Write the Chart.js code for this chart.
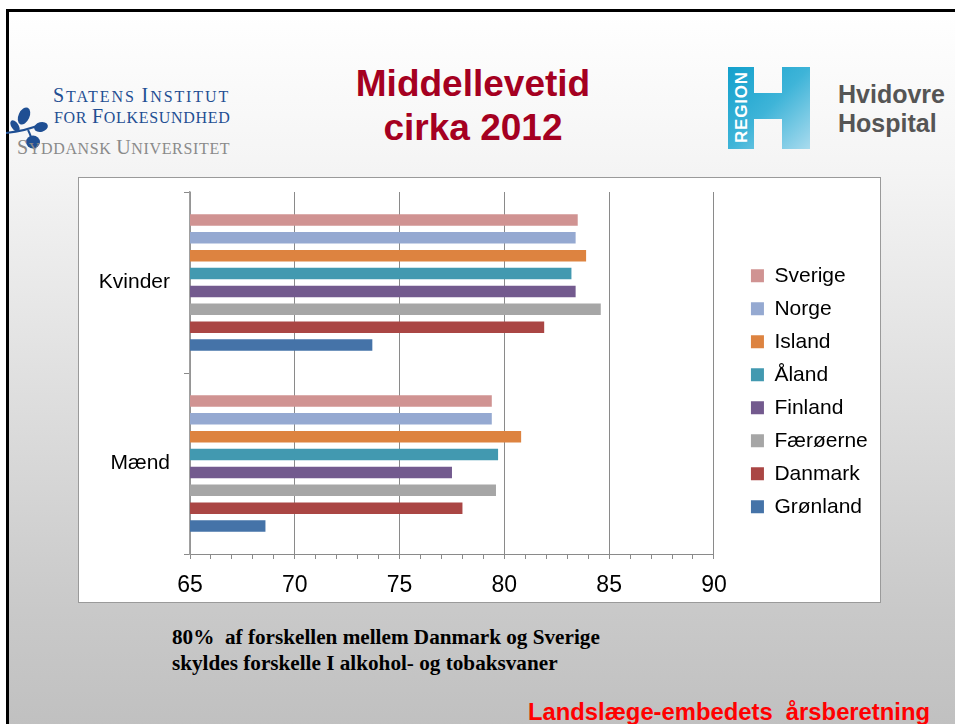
<!DOCTYPE html>
<html>
<head>
<meta charset="utf-8">
<script src="https://cdn.jsdelivr.net/npm/chart.js@4/dist/chart.umd.min.js"></script>
<style>
  body { margin: 0; width: 955px; height: 724px; overflow: hidden; background: #fff; position: relative; font-family: "Liberation Sans", Arial, sans-serif; }
  .slide { position: absolute; left: 6px; top: 9px; width: 960px; height: 730px; border-top: 3px solid #000; border-left: 3px solid #000;
    background: linear-gradient(to bottom, #ffffff 0%, #f4f4f4 22%, #c9c9c9 82%, #bfbfbf 100%); }
  .abs { position: absolute; white-space: nowrap; }
  .title { left: 273px; top: 62px; width: 400px; text-align: center; font-weight: bold; font-size: 37px; line-height: 44px; color: #a50021; }
  .sif { font-family: "Liberation Serif", "DejaVu Serif", serif; font-size: 16px; letter-spacing: 0.7px; line-height: 21px; }
  .sif b { font-weight: normal; font-size: 20px; }
  .hosp { left: 838px; top: 80px; font-weight: bold; font-size: 25px; line-height: 29px; color: #555; }
  .box { position: absolute; left: 78px; top: 177px; width: 803px; height: 426px; box-sizing: border-box; border: 1px solid #9a9a9a; background: #fff; }
  .note { left: 172px; top: 624px; font-family: "Liberation Serif", "Times New Roman", serif; font-weight: bold; font-size: 21.2px; line-height: 26px; color: #000; }
  .source { left: 528px; top: 698px; font-weight: bold; font-size: 23.8px; line-height: 28px; color: #ff0000; }
</style>
</head>
<body>
<div class="slide"></div>

<!-- left logo -->
<svg class="abs" style="left:6px;top:104px" width="46" height="56" viewBox="0 0 46 56">
  <path d="M0 29 C 10 28, 22 26, 36 20" stroke="#1f4f93" stroke-width="2.2" fill="none"/>
  <path d="M22 26 C 24 30, 25 32, 25 34" stroke="#1f4f93" stroke-width="2" fill="none"/>
  <ellipse cx="18" cy="12" rx="5.5" ry="9" transform="rotate(25 18 12)" fill="#1f4f93"/>
  <ellipse cx="9" cy="22" rx="3.5" ry="6.5" transform="rotate(-35 9 22)" fill="#1f4f93"/>
  <ellipse cx="35" cy="23" rx="7" ry="4.8" transform="rotate(-15 35 23)" fill="#1f4f93"/>
  <ellipse cx="27" cy="38" rx="7" ry="6.5" fill="#1f4f93"/>
</svg>
<div class="abs sif" style="left:53px;top:85px;color:#1f4f93;letter-spacing:1.9px"><b>S</b>TATENS <b>I</b>NSTITUT</div>
<div class="abs sif" style="left:54px;top:106px;color:#1f4f93">FOR <b>F</b>OLKESUNDHED</div>
<div class="abs sif" style="left:17px;top:137px;color:#8a8a8a;letter-spacing:0.65px"><b>S</b>YDDANSK <b>U</b>NIVERSITET</div>

<div class="abs title">Middellevetid<br>cirka 2012</div>

<!-- right logo -->
<svg class="abs" style="left:728px;top:67px" width="83" height="83" viewBox="0 0 83 83">
  <defs>
    <linearGradient id="hg" x1="0" y1="0" x2="1" y2="1">
      <stop offset="0" stop-color="#13a0cc"/>
      <stop offset="0.5" stop-color="#3eb4d8"/>
      <stop offset="1" stop-color="#a9dbee"/>
    </linearGradient>
  </defs>
  <path d="M0 0 H26 V26 H54 V0 H82 V82 H54 V52 H26 V82 H0 Z" fill="url(#hg)"/>
  <text transform="translate(19 76) rotate(-90)" font-family="Liberation Sans, Arial" font-weight="bold" font-size="17" fill="#fff" letter-spacing="0.8">REGION</text>
</svg>
<div class="abs hosp">Hvidovre<br>Hospital</div>

<div class="box"><canvas id="chart" width="801" height="424"></canvas></div>

<div class="abs note">80%&nbsp; af forskellen mellem Danmark og Sverige<br>skyldes forskelle I alkohol- og tobaksvaner</div>
<div class="abs source">Landslæge-embedets&nbsp; årsberetning</div>

<script>
const categories = ['Kvinder', 'Mænd'];
const countries = ['Sverige', 'Norge', 'Island', 'Åland', 'Finland', 'Færøerne', 'Danmark', 'Grønland'];
const kvinder = [83.5, 83.4, 83.9, 83.2, 83.4, 84.6, 81.9, 73.7];
const maend = [79.4, 79.4, 80.8, 79.7, 77.5, 79.6, 78.0, 68.6];
const colors = ['#d09392', '#95a9d1', '#dd8340', '#4299b0', '#735a8e', '#a6a6a6', '#aa4644', '#4573a8'];

const fontFamily = '"Liberation Sans", Arial, sans-serif';

// move the legend a bit right/up, the way the original sits
const shiftLegend = {
    id: 'shiftLegend',
    afterLayout(chart) {
        const l = chart.legend;
        l.left += 25; l.right += 25;
        l.top -= 2.5; l.bottom -= 2.5;
    }
};

const ctx = document.getElementById('chart').getContext('2d');
new Chart(ctx, {
    type: 'bar',
    data: {
        labels: categories,
        datasets: countries.map((c, i) => ({
            label: c,
            data: [kvinder[i], maend[i]],
            backgroundColor: colors[i],
            categoryPercentage: 0.79,
            barPercentage: 0.64
        }))
    },
    options: {
        indexAxis: 'y',
        responsive: false,
        animation: false,
        layout: { padding: { left: 5.8, right: 27.2, top: 14, bottom: 6.4 } },
        scales: {
            x: {
                min: 65,
                max: 90,
                ticks: {
                    stepSize: 1,
                    autoSkip: false,
                    maxRotation: 0,
                    padding: 12.5,
                    color: '#000',
                    font: { family: fontFamily, size: 23 },
                    callback: v => (v % 5 === 0 ? v : '')
                },
                grid: {
                    color: c => (c.tick && c.tick.value % 5 === 0 ? '#8a8a8a' : 'rgba(0,0,0,0)'),
                    tickColor: '#8a8a8a',
                    tickLength: 5,
                    lineWidth: 1
                },
                border: { color: '#8a8a8a', width: 1 },
                afterFit: s => { s.height = 41.6; }
            },
            y: {
                ticks: {
                    padding: 14,
                    color: '#000',
                    font: { family: fontFamily, size: 21 }
                },
                grid: {
                    drawOnChartArea: false,
                    offset: true,
                    tickLength: 6,
                    color: '#8a8a8a'
                },
                border: { color: '#a0a0a0', width: 1.5 },
                afterFit: s => { s.paddingTop = 0; s.paddingBottom = 0; }
            }
        },
        plugins: {
            legend: {
                position: 'right',
                labels: {
                    boxWidth: 13,
                    boxHeight: 13,
                    padding: 12,
                    color: '#000',
                    font: { family: fontFamily, size: 21 }
                }
            },
            tooltip: { enabled: false }
        }
    },
    plugins: [shiftLegend]
});
</script>
</body>
</html>
